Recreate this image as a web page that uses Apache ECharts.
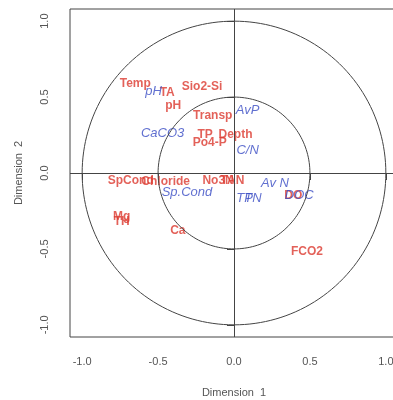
<!DOCTYPE html>
<html>
<head>
<meta charset="utf-8">
<script src="https://cdn.jsdelivr.net/npm/echarts@6/dist/echarts.min.js"></script>
<style>
  html, body { margin: 0; padding: 0; background: #fff; }
  #chart { width: 393px; height: 400px; }
</style>
</head>
<body>
<div id="chart"></div>
<script>
// active variables (red, bold)
const redLabels = ["Temp", "TA", "Sio2-Si", "pH", "Transp", "TP", "Depth", "Po4-P",
  "SpCond", "Chloride", "No3N", "TAN", "Mg", "TH", "Ca", "DO", "FCO2"];
const redX = [-0.65, -0.44, -0.21, -0.40, -0.14, -0.19, 0.01, -0.16,
  -0.68, -0.45, -0.105, -0.01, -0.74, -0.74, -0.37, 0.39, 0.48];
const redY = [0.59, 0.53, 0.57, 0.44, 0.38, 0.25, 0.25, 0.20,
  -0.05, -0.06, -0.05, -0.05, -0.29, -0.32, -0.38, -0.15, -0.52];

// supplementary variables (blue, italic)
const blueLabels = ["pH", "AvP", "CaCO3", "C/N", "Sp.Cond", "Av N", "TP", "TN", "DOC"];
const blueX = [-0.53, 0.09, -0.47, 0.09, -0.31, 0.27, 0.07, 0.125, 0.43];
const blueY = [0.54, 0.41, 0.26, 0.15, -0.13, -0.07, -0.165, -0.165, -0.15];

const ticks = [-1, -0.5, 0, 0.5, 1];
const radii = [1, 0.5];

const chart = echarts.init(document.getElementById("chart"));

function circle(r) {
  const pts = [];
  for (let i = 0; i <= 360; i += 2) {
    const a = i * Math.PI / 180;
    pts.push([r * Math.cos(a), r * Math.sin(a)]);
  }
  return pts;
}

function labels(names, xs, ys) {
  return names.map((n, i) => ({ name: n, value: [xs[i], ys[i]] }));
}

const tickFont = { fontFamily: "Liberation Sans", fontSize: 11, color: "#555" };

const axisCommon = {
  type: "value",
  min: -1.08,
  max: 1.08,
  axisLine: { show: false },
  splitLine: { show: false },
  axisTick: { show: true, length: 7, customValues: ticks, lineStyle: { color: "#444" } },
  nameLocation: "middle",
  nameTextStyle: tickFont
};

chart.setOption({
  animation: false,
  grid: {
    left: 70, top: 9, width: 328, height: 328,
    outerBoundsMode: "none", containLabel: false,
    show: true, borderColor: "#444", borderWidth: 1
  },
  xAxis: Object.assign({}, axisCommon, {
    name: "Dimension  1",
    nameGap: 50,
    axisLabel: Object.assign({ customValues: ticks, margin: 19, formatter: v => v.toFixed(1) }, tickFont)
  }),
  yAxis: Object.assign({}, axisCommon, {
    name: "Dimension  2",
    nameGap: 46,
    axisLabel: Object.assign({ customValues: ticks, margin: 20, rotate: 90, formatter: v => v.toFixed(1) }, tickFont)
  }),
  series: [
    ...radii.map(r => ({
      type: "line",
      data: circle(r),
      showSymbol: false,
      silent: true,
      lineStyle: { color: "#444", width: 1 }
    })),
    {
      type: "line",
      data: [],
      markLine: {
        silent: true,
        symbol: "none",
        label: { show: false },
        lineStyle: { color: "#444", width: 1, type: "solid" },
        data: [{ xAxis: 0 }, { yAxis: 0 }]
      }
    },
    {
      type: "scatter",
      symbolSize: 0,
      data: labels(redLabels, redX, redY),
      label: {
        show: true, position: "inside", formatter: "{b}",
        fontFamily: "Liberation Sans", fontWeight: "bold", fontSize: 12, color: "#dc3a30"
      }
    },
    {
      type: "scatter",
      symbolSize: 0,
      data: labels(blueLabels, blueX, blueY),
      label: {
        show: true, position: "inside", formatter: "{b}",
        fontFamily: "Liberation Sans", fontStyle: "italic", fontSize: 13, color: "#3a4cc4"
      }
    }
  ]
});

window.addEventListener("resize", () => chart.resize());
</script>
</body>
</html>
